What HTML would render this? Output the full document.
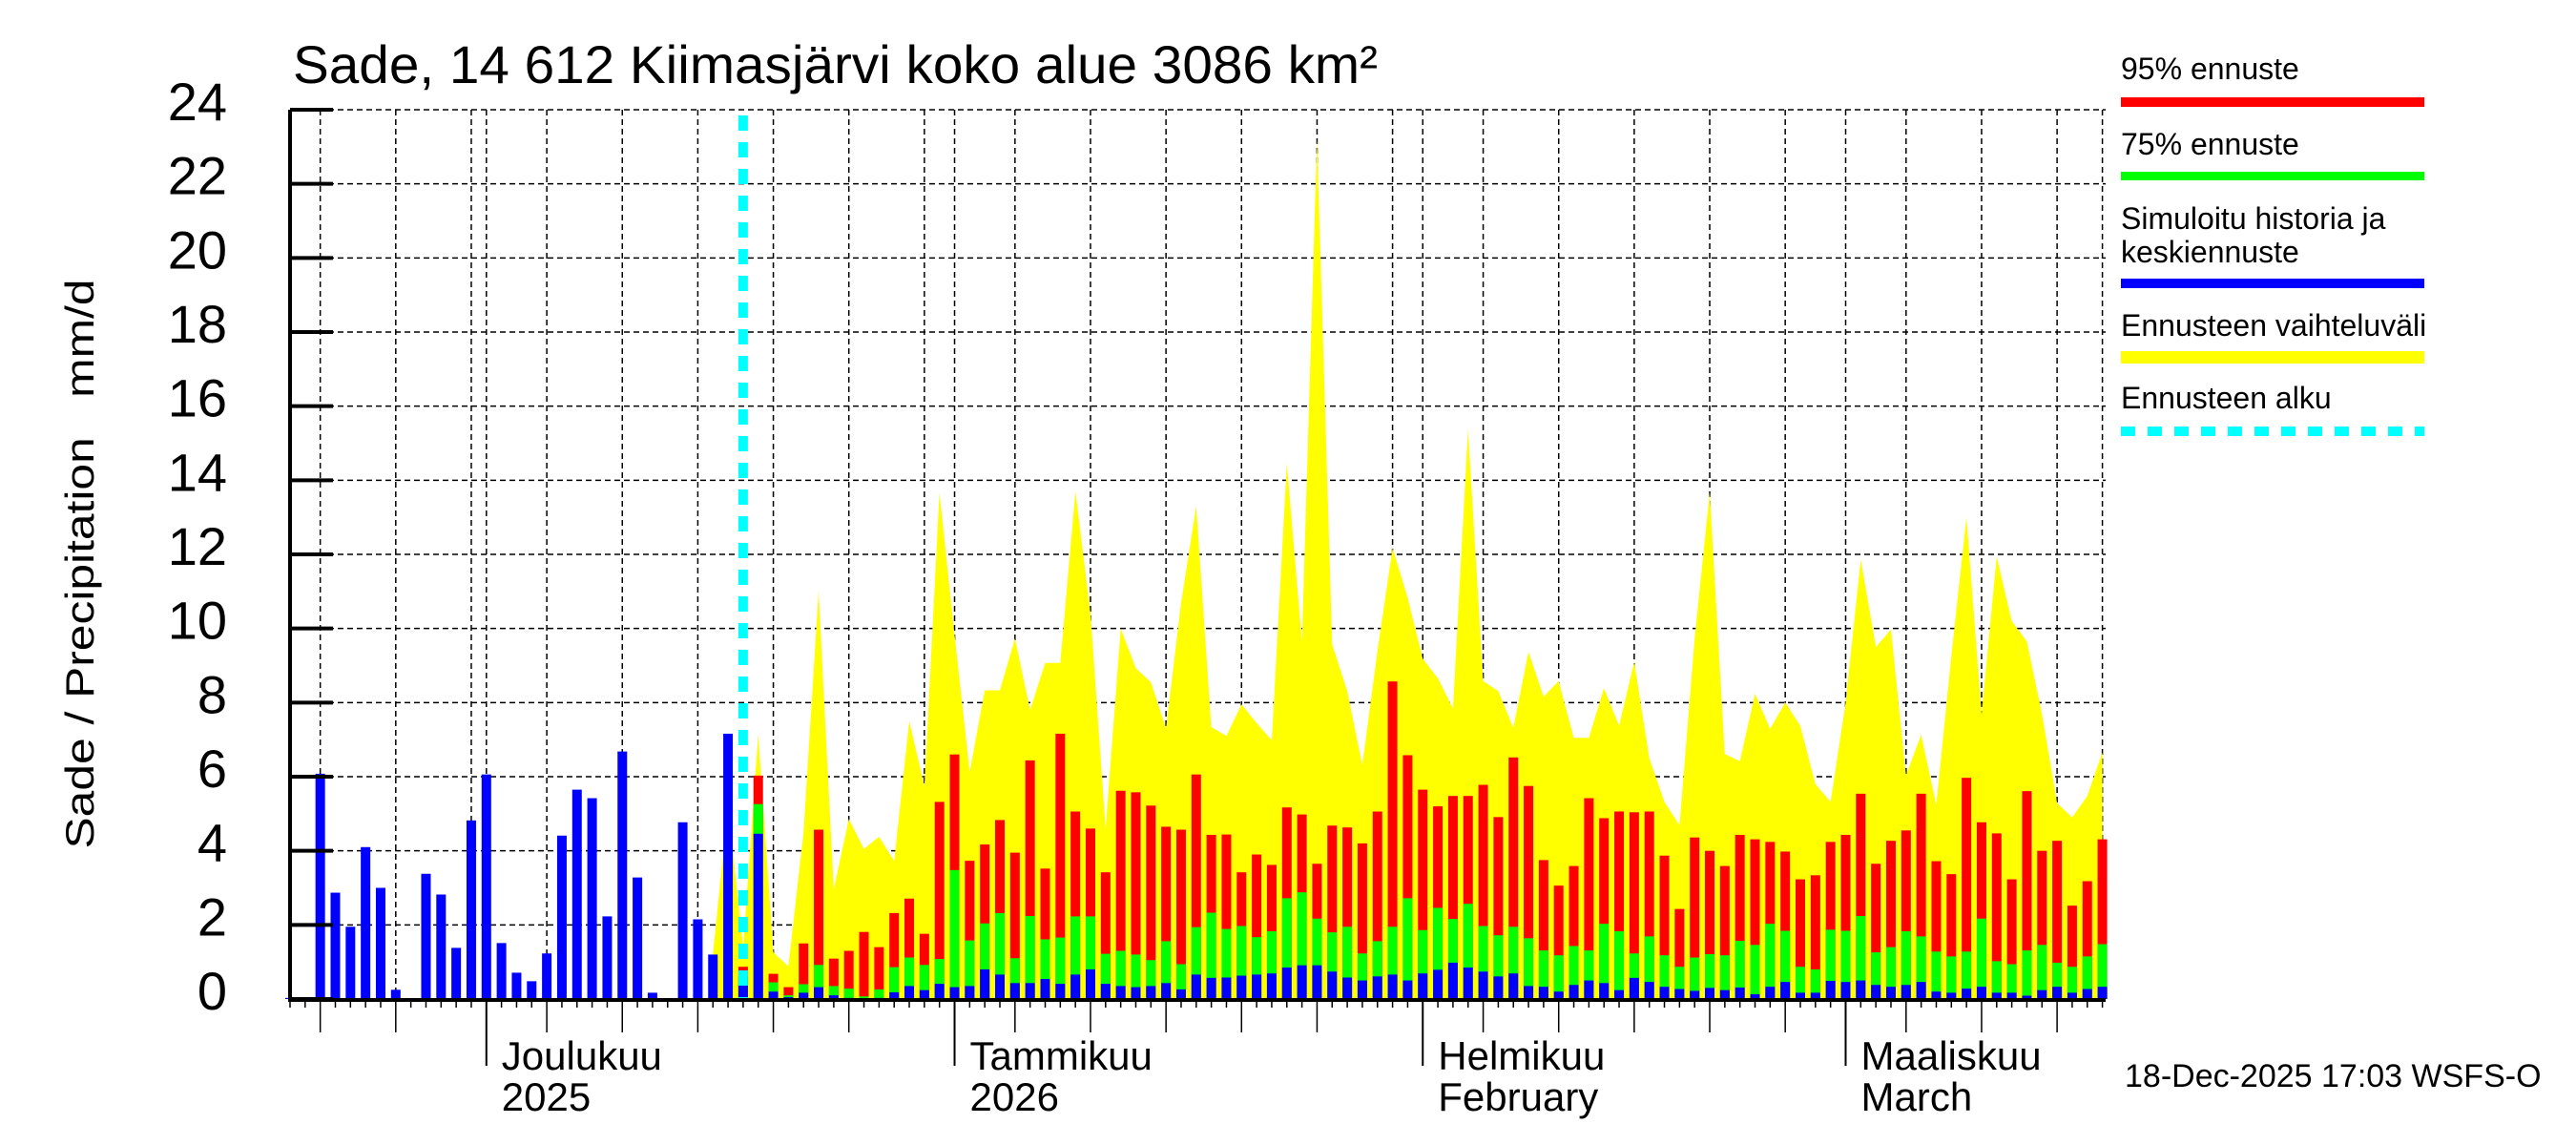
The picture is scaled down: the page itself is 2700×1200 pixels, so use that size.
<!DOCTYPE html>
<html><head><meta charset="utf-8"><title>Sade, 14 612 Kiimasjärvi</title>
<style>html,body{margin:0;padding:0;background:#fff}svg{display:block}text{font-family:"Liberation Sans",sans-serif;fill:#000}</style>
</head><body>
<svg id="chart" width="2700" height="1200" viewBox="0 0 2700 1200" xmlns="http://www.w3.org/2000/svg">
<rect x="0" y="0" width="2700" height="1200" fill="#fff"/>
<g id="grid"></g>
<g id="yellow"></g>
<g id="bars"></g>
<g id="axes"></g>
<text x="307" y="87" font-size="56" textLength="1137" lengthAdjust="spacingAndGlyphs">Sade, 14 612 Kiimasjärvi koko alue 3086 km²</text>
<text transform="translate(98,591) rotate(-90)" text-anchor="middle" font-size="42" textLength="597" lengthAdjust="spacingAndGlyphs" xml:space="preserve">Sade / Precipitation   mm/d</text>
<g>
<text x="2223" y="83" font-size="32">95% ennuste</text>
<rect x="2223" y="102" width="318" height="10" fill="#ff0000"/>
<text x="2223" y="162" font-size="32">75% ennuste</text>
<rect x="2223" y="180" width="318" height="9" fill="#00ff00"/>
<text x="2223" y="240" font-size="32">Simuloitu historia ja</text>
<text x="2223" y="275" font-size="32">keskiennuste</text>
<rect x="2223" y="292" width="318" height="10" fill="#0000ff"/>
<text x="2223" y="352" font-size="32">Ennusteen vaihteluväli</text>
<rect x="2223" y="368" width="318" height="13" fill="#ffff00"/>
<text x="2223" y="428" font-size="32">Ennusteen alku</text>
<line x1="2223" y1="452" x2="2541" y2="452" stroke="#00ffff" stroke-width="10" stroke-dasharray="15,13"/>
</g>
<text x="2227" y="1139" font-size="34">18-Dec-2025 17:03 WSFS-O</text>
</svg>
<script>
// ---- data (daily values, mm/d) ----
const startDate = [2025, 10, 18]; // 18 Nov 2025 = day index 0
const observed = [0.03,0.03,6.08,2.87,1.95,4.1,3.0,0.25,0.02,3.38,2.82,1.38,4.82,6.06,1.51,0.71,0.48,1.23,4.41,5.65,5.42,2.23,6.68,3.28,0.17,0.02,4.77,2.15,1.2,7.16];
const forecastStart = 30;
const median = [0.61,4.46,0.2,0.05,0.17,0.32,0.1,0.03,0.01,0.03,0.18,0.35,0.24,0.41,0.32,0.35,0.8,0.66,0.43,0.43,0.54,0.41,0.66,0.8,0.41,0.35,0.32,0.35,0.43,0.26,0.66,
0.57,0.58,0.63,0.66,0.69,0.85,0.91,0.91,0.74,0.58,0.5,0.61,0.66,0.5,0.69,0.79,0.98,0.85,0.74,0.61,0.69,0.35,0.33,0.2,0.38,0.5,0.43,0.24,0.57,0.46,0.33,
0.27,0.22,0.3,0.24,0.31,0.13,0.33,0.46,0.17,0.17,0.49,0.46,0.5,0.38,0.33,0.38,0.46,0.2,0.17,0.28,0.33,0.17,0.17,0.09,0.24,0.33,0.17,0.27,0.33];
const p75 = [0.71,5.26,0.45,0.1,0.4,0.92,0.35,0.28,0.07,0.26,0.86,1.12,0.92,1.08,3.48,1.58,2.04,2.32,1.1,2.24,1.61,1.66,2.23,2.23,1.22,1.3,1.2,1.05,1.56,0.94,1.94,
2.33,1.89,1.97,1.67,1.83,2.72,2.88,2.17,1.8,1.95,1.23,1.56,1.95,2.72,1.86,2.46,2.16,2.57,1.97,1.72,1.95,1.64,1.31,1.18,1.43,1.31,2.03,1.83,1.23,1.69,1.18,
0.87,1.12,1.21,1.18,1.57,1.46,2.03,1.84,0.87,0.8,1.87,1.84,2.24,1.26,1.4,1.83,1.69,1.28,1.15,1.28,2.17,1.02,0.94,1.31,1.46,0.98,0.87,1.15,1.48];
const p95 = [0.87,6.03,0.68,0.32,1.5,4.57,1.09,1.3,1.81,1.4,2.32,2.71,1.76,5.32,6.6,3.73,4.17,4.83,3.95,6.44,3.52,7.16,5.06,4.6,3.42,5.62,5.58,5.22,4.65,4.57,6.06,
4.43,4.44,3.42,3.9,3.62,5.17,4.98,3.65,4.68,4.63,4.2,5.06,8.57,6.58,5.65,5.2,5.48,5.48,5.78,4.91,6.52,5.75,3.75,3.06,3.59,5.42,4.88,5.06,5.04,5.06,3.87,
2.43,4.36,4.0,3.59,4.43,4.31,4.24,3.98,3.23,3.34,4.24,4.43,5.54,3.65,4.27,4.55,5.54,3.72,3.37,5.97,4.77,4.47,3.23,5.61,4.0,4.27,2.52,3.18,4.31];
const rangeStart = 28;
const rangeMax = [1.2,5.2,1.4,7.13,1.26,0.88,4.5,11.0,2.96,4.86,4.05,4.38,3.72,7.5,5.75,13.66,9.83,6.13,8.33,8.33,9.73,7.8,9.07,9.07,13.7,10.4,4.6,10.0,8.93,8.55,7.3,10.7,13.3,
7.34,7.1,7.95,7.45,6.98,14.46,9.65,23.2,9.57,8.31,6.31,9.4,12.17,10.83,9.18,8.66,7.84,15.37,8.58,8.31,7.32,9.37,8.16,8.58,7.05,7.05,8.39,7.37,9.1,6.5,5.32,
4.69,9.73,13.67,6.61,6.42,8.24,7.29,8.0,7.37,5.8,5.32,8.0,11.86,9.5,9.97,6.03,7.13,5.24,9.26,13.0,7.69,11.94,10.2,9.65,7.69,5.29,4.9,5.48,6.66];
const yTicks = [0,2,4,6,8,10,12,14,16,18,20,22,24];
const monthLabels = [["Joulukuu","2025"],["Tammikuu","2026"],["Helmikuu","February"],["Maaliskuu","March"]];
const numDays = 121;

// ---- axes ----
const X0 = 304, DX = 15.83, Y0 = 1047, YTOP = 115, YMAX = 24, XEND = 2207;
function xs(i){ return X0 + i*DX; }
function ys(v){ return Y0 - v*(Y0-YTOP)/YMAX; }
const NS = "http://www.w3.org/2000/svg";
function mk(tag, attrs, parent){ const e=document.createElementNS(NS,tag); for(const k in attrs) e.setAttribute(k,attrs[k]); parent.appendChild(e); return e; }
const grid=document.getElementById('grid'), bars=document.getElementById('bars'), axes=document.getElementById('axes'), yel=document.getElementById('yellow');
const BW = 10;

yTicks.forEach(v=>{
  if(v>0){ const g=mk('line',{x1:X0,x2:XEND,y1:ys(v),y2:ys(v),stroke:'#000','stroke-width':1.5,'stroke-dasharray':'6,4'},grid);
  
   }
  const t=mk('line',{x1:X0,x2:X0+45,y1:ys(v),y2:ys(v),stroke:'#000','stroke-width':4},axes);
  
  
  const l=mk('text',{x:238,y:ys(v)+11,'font-size':56,'text-anchor':'end'},axes);
  l.textContent=v;
  
  
});

let mIdx=0;
for(let i=0;i<numDays;i++){
  const d=new Date(startDate[0],startDate[1],startDate[2]+i);
  const dom=d.getDate();
  const x=xs(i);
  let len=9;
  if(dom===1) len=70; else if(dom%5===0 && dom<30) len=35;
  const t=mk('line',{x1:x,x2:x,y1:Y0,y2:Y0+len,stroke:'#000','stroke-width':dom===1?2:1.5},axes);
  
  
  if(dom===1||dom%5===0||i===numDays-1){
    const g=mk('line',{x1:x,x2:x,y1:YTOP,y2:Y0,stroke:'#000','stroke-width':1.5,'stroke-dasharray':'6,4'},grid);
    
    
  }
  if(dom===1 && mIdx<monthLabels.length){
    const a=mk('text',{x:x+16,y:1121,'font-size':42},axes); a.textContent=monthLabels[mIdx][0];
    
    
    const b=mk('text',{x:x+16,y:1164,'font-size':42},axes); b.textContent=monthLabels[mIdx][1];
    
    
    mIdx++;
  }
}

let pts=[[xs(rangeStart-0.3),Y0]];
rangeMax.forEach((v,k)=>pts.push([xs(rangeStart+k),ys(v)]));
pts.push([xs(rangeStart+rangeMax.length-1),Y0]);
const poly=mk('polygon',{points:pts.map(p=>p[0].toFixed(1)+','+p[1].toFixed(1)).join(' '),fill:'#ffff00'},yel);



function bar(i,v,color,name){
  const y=ys(v);
  const r=mk('rect',{x:xs(i)-BW/2,y:y,width:BW,height:Math.max(0,Y0-y),fill:color},bars);
  
  
}
observed.forEach((v,i)=>bar(i,v,'#0000ff','observed-bar'));
p95.forEach((v,k)=>bar(forecastStart+k,v,'#ff0000','bar-p95'));
p75.forEach((v,k)=>bar(forecastStart+k,v,'#00ff00','bar-p75'));
median.forEach((v,k)=>bar(forecastStart+k,v,'#0000ff','bar-median'));

const fx=xs(forecastStart);
const fl=mk('line',{x1:fx,x2:fx,y1:YTOP+6,y2:Y0,stroke:'#00ffff','stroke-width':10,'stroke-dasharray':'16,12'},axes);



const ax=mk('line',{x1:X0,x2:X0,y1:YTOP,y2:Y0+2,stroke:'#000','stroke-width':4},axes);


const bx=mk('line',{x1:X0-2,x2:XEND,y1:Y0+1,y2:Y0+1,stroke:'#000','stroke-width':4},axes);


</script>
</body></html>
